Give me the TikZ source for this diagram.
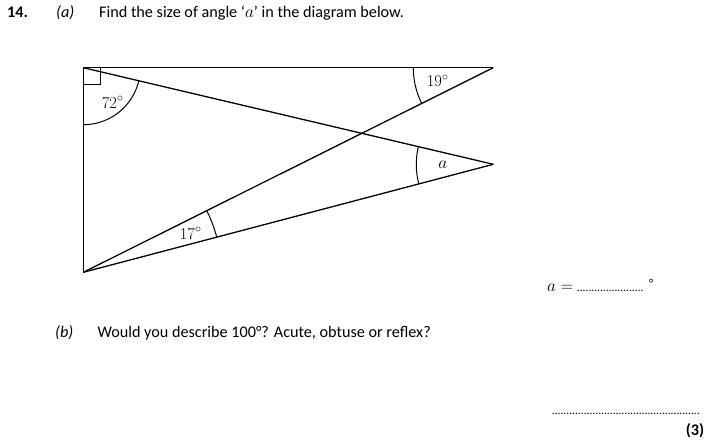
\documentclass[tikz,border=0pt]{standalone}
\usepackage{fontspec}
\usetikzlibrary{calc}
\setmainfont{Carlito}
\newfontfamily\lmfont{Latin Modern Roman}
\begin{document}
\begin{tikzpicture}[x=1pt,y=-1pt,
  txt/.style={anchor=base west, inner sep=0pt, font=\fontsize{16.2}{19}\selectfont},
  btxt/.style={txt, font=\fontsize{16.2}{19}\selectfont\bfseries},
  lbl/.style={inner sep=0pt, font=\lmfont\fontsize{16.5}{19}\selectfont},
  dots/.style={anchor=base west, inner sep=0pt, font=\fontsize{11.5}{13}\selectfont},
  edge/.style={line width=1.3pt},
  arcline/.style={line width=1pt}]
\fill[white] (0,0) rectangle (709,442);
\useasboundingbox (0,0) rectangle (709,442);
% header
\node[btxt] (qnum) at (7,17.5) {14.};
\node[txt] (pa) at (56,17.5) {\textit{(a)}};
\node[txt] (ta) at (99,17.5) {Find the size of angle ‘$a$’ in the diagram below.};
% diagram
\coordinate (A) at (83.3,67.7);
\coordinate (B) at (83.3,272.3);
\coordinate (C) at (493.3,67.7);
\coordinate (D) at (493.3,164.3);
\draw[edge] (A) -- (B);
\draw[edge] (A) -- (C);
\draw[edge] (A) -- (D);
\draw[edge] (B) -- (C);
\draw[edge] (B) -- (D);
\draw[arcline] (A) rectangle ($(A)+(17,17)$);
\draw[arcline, shift={(A)}] plot[domain=13.26:90, samples=40, smooth] (\x:57);
\draw[arcline, shift={(C)}] plot[domain=153.48:180, samples=30, smooth] (\x:80);
\draw[arcline, shift={(D)}] plot[domain=165.26:193.26, samples=30, smooth] (\x:77);
\draw[arcline, shift={(B)}] plot[domain=-26.52:-14.74, samples=20, smooth] (\x:138);
\node[lbl] (l72) at (112.7,102.5) {72$^\circ$};
\node[lbl] (l19) at (437.7,81) {19$^\circ$};
\node[lbl] (la) at (442.7,165) {$a$};
\node[lbl] (l17) at (190.7,233.5) {17$^\circ$};
% answer line
\node[anchor=base west, inner sep=0pt, font=\fontsize{18}{20}\selectfont] (aeq) at (547,291.7) {$a=$};
\node[dots] (adots) at (576.7,291.7) {.......................};
\node[anchor=base west, inner sep=0pt, font=\fontsize{12}{13}\selectfont] (adeg) at (649,287.5) {°};
% part b
\node[txt] (pb) at (55,337.7) {\textit{(b)}};
\node[txt] (tb) at (97.3,337.7) {Would you describe 100°? Acute, obtuse or reflex?};
\node[dots] (bdots) at (551.7,414) {...................................................};
\node[btxt] (marks) at (685.7,435) {(3)};
\end{tikzpicture}
\end{document}
